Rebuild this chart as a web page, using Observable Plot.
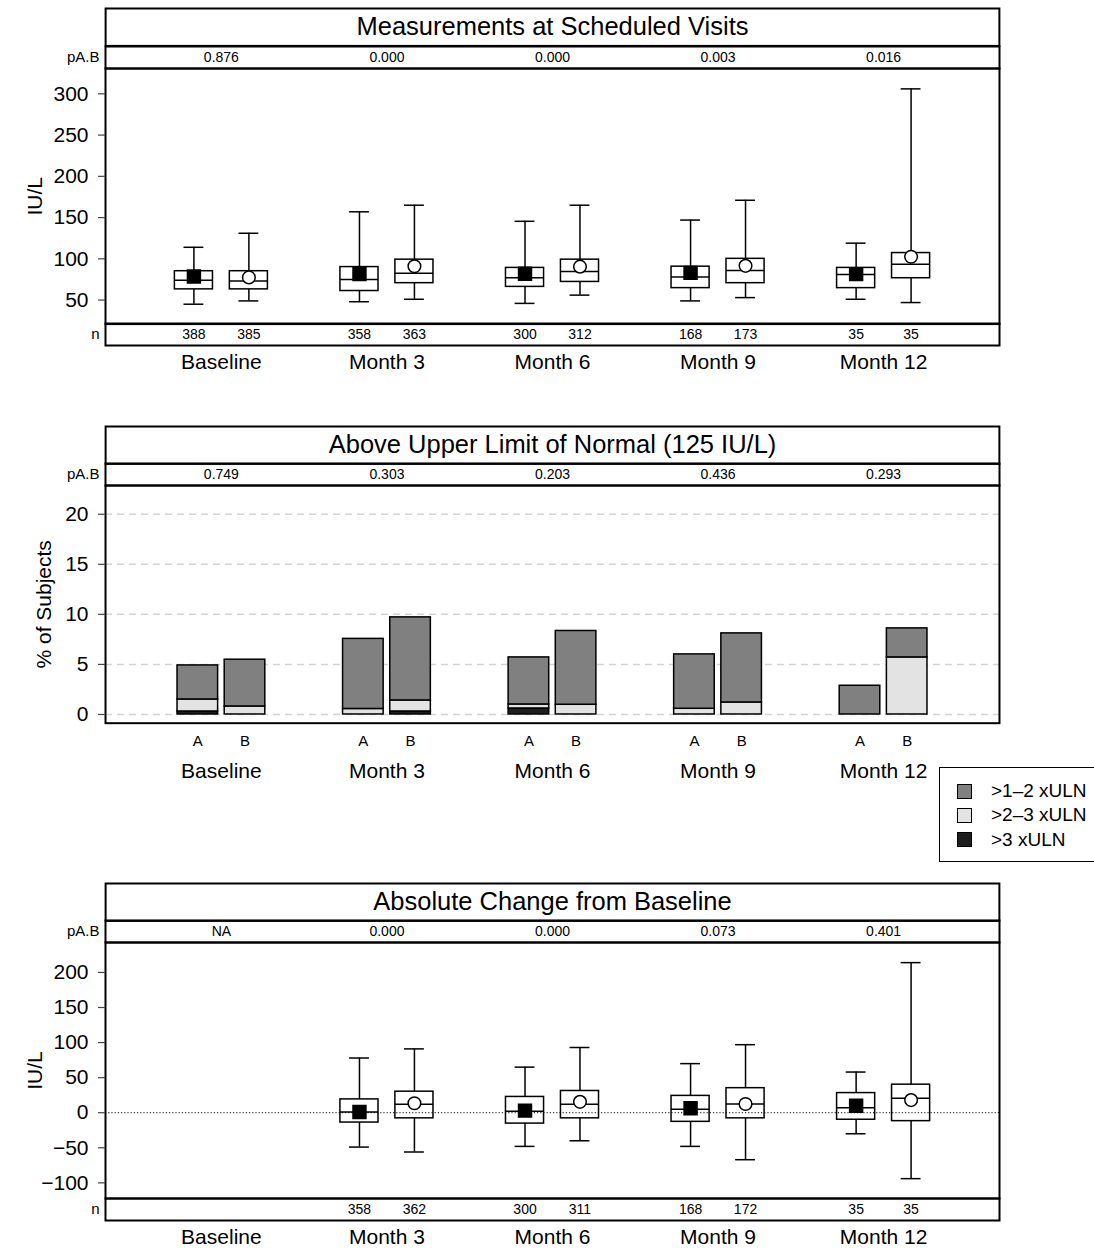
<!DOCTYPE html>
<html><head><meta charset="utf-8">
<script src="https://cdn.jsdelivr.net/npm/d3@7"></script>
<script src="https://cdn.jsdelivr.net/npm/@observablehq/plot@0.6"></script>
<style>
html,body{margin:0;padding:0;background:white;overflow:hidden;}
#root{position:relative;width:1094px;height:1252px;overflow:hidden;font-family:"Liberation Sans",Arial,Helvetica,sans-serif;}
.legend{position:absolute;left:939px;top:767px;width:170px;height:95px;border:1.5px solid #000;box-sizing:border-box;background:white;}
.legend .item{position:absolute;left:17px;height:24px;display:flex;align-items:center;font-size:19px;color:#000;}
.legend .sw{width:13px;height:13px;border:1px solid #000;margin-right:19px;}
</style></head><body><div id="root"></div>
<script>
// ---------- data ----------
const visits = ["Baseline", "Month 3", "Month 6", "Month 9", "Month 12"];
const arms = ["A", "B"];

// Panel 1: Measurements at Scheduled Visits (IU/L)
const title1 = "Measurements at Scheduled Visits";
const pval1 = ["0.876", "0.000", "0.000", "0.003", "0.016"];
const n1A = [388, 358, 300, 168, 35];
const n1B = [385, 363, 312, 173, 35];
const lo1A   = [45, 48, 46, 49, 51];
const q1_1A  = [63, 61, 66, 64.5, 64.5];
const med1A  = [74, 75, 77, 78, 81];
const q3_1A  = [85, 90, 89, 90.5, 89];
const hi1A   = [114, 157, 145.5, 147, 119];
const mean1A = [78.5, 81.5, 82, 83, 81.5];
const lo1B   = [49, 51, 56, 53, 47];
const q1_1B  = [63, 70.5, 72, 70.5, 76.5];
const med1B  = [73, 82.5, 84.5, 86, 93.5];
const q3_1B  = [85, 99, 99, 100, 107];
const hi1B   = [131, 165, 165, 171, 306];
const mean1B = [77.5, 91, 90.5, 91.5, 102.5];
const ticks1 = [50, 100, 150, 200, 250, 300];

// Panel 2: Above Upper Limit of Normal (% of subjects)
const title2 = "Above Upper Limit of Normal (125 IU/L)";
const pval2 = ["0.749", "0.303", "0.203", "0.436", "0.293"];
const categories = [">3 xULN", ">2\u20133 xULN", ">1\u20132 xULN"];
const gt3A  = [0.3, 0, 0.6, 0, 0];
const gt23A = [1.2, 0.55, 0.4, 0.57, 0];
const gt12A = [3.4, 7.0, 4.7, 5.43, 2.87];
const gt3B  = [0, 0.3, 0, 0, 0];
const gt23B = [0.8, 1.1, 0.97, 1.2, 5.7];
const gt12B = [4.67, 8.3, 7.37, 6.9, 2.9];
const ticks2 = [0, 5, 10, 15, 20];

// Panel 3: Absolute Change from Baseline (IU/L)
const title3 = "Absolute Change from Baseline";
const pval3 = ["NA", "0.000", "0.000", "0.073", "0.401"];
const n3A = [null, 358, 300, 168, 35];
const n3B = [null, 362, 311, 172, 35];
const lo3A   = [null, -49, -48, -48, -30];
const q1_3A  = [null, -14, -15.5, -13, -10];
const med3A  = [null, 1, 2, 5, 7];
const q3_3A  = [null, 19, 22.5, 24, 28];
const hi3A   = [null, 78, 65, 70, 58];
const mean3A = [null, 1, 3, 6.5, 10];
const lo3B   = [null, -56, -40, -67, -94];
const q1_3B  = [null, -8, -8, -8, -12];
const med3B  = [null, 12, 12, 12.5, 20.5];
const q3_3B  = [null, 30, 31, 35, 40];
const hi3B   = [null, 91, 93, 97, 214];
const mean3B = [null, 13.5, 15.5, 12.5, 18];
const ticks3 = [-100, -50, 0, 50, 100, 150, 200];

const colors = {">3 xULN": "#1e1e1e", ">2\u20133 xULN": "#e3e3e3", ">1\u20132 xULN": "#808080"};

// ---------- layout helpers ----------
const root = document.getElementById("root");
const FONT = '"Liberation Sans", Arial, Helvetica, sans-serif';
const XDOM = [0.3, 5.7];
const boxOff = 0.166, boxHalf = 0.115, capHalf = 0.06;
const barOff = 0.1425, barHalf = 0.1226;

function base(height, marks, y = {domain: [0, 1]}) {
  return Plot.plot({
    width: 1094, height,
    marginLeft: 105, marginRight: 95, marginTop: 0, marginBottom: 0,
    x: {domain: XDOM, axis: null},
    y: {...y, axis: null},
    style: {fontFamily: FONT, fontSize: "14px", overflow: "visible", background: "transparent", color: "black"},
    marks
  });
}
function place(el, top) {
  el.style.position = "absolute";
  el.style.left = "0px";
  el.style.top = top + "px";
  root.append(el);
}
function titleBox(text, top) {
  place(base(37.4, [
    Plot.frame({stroke: "black", strokeWidth: 2}),
    Plot.text([text], {frameAnchor: "middle", fontSize: 25.5, fill: "black"})
  ]), top);
}
function pStrip(vals, top) {
  place(base(22, [
    Plot.frame({stroke: "black", strokeWidth: 2}),
    Plot.text(vals, {x: (d, i) => i + 1, text: d => d, fontSize: 14, fill: "black"}),
    Plot.text(["pA.B"], {frameAnchor: "left", dx: -6, textAnchor: "end", fontSize: 15, fill: "black"})
  ]), top);
}
function nStrip(nA, nB, top) {
  const rows = [];
  visits.forEach((v, i) => {
    if (nA[i] != null) rows.push({x: i + 1 - boxOff, n: nA[i]});
    if (nB[i] != null) rows.push({x: i + 1 + boxOff, n: nB[i]});
  });
  place(base(22, [
    Plot.frame({stroke: "black", strokeWidth: 2}),
    Plot.text(rows, {x: "x", text: d => String(d.n), fontSize: 14, fill: "black"}),
    Plot.text(["n"], {frameAnchor: "left", dx: -6, textAnchor: "end", fontSize: 15, fill: "black"})
  ]), top);
}
function catRow(top) {
  place(base(30, [
    Plot.text(visits, {x: (d, i) => i + 1, text: d => d, fontSize: 21, fill: "black"})
  ]), top);
}
function armRow(top) {
  const rows = [];
  visits.forEach((v, i) => arms.forEach((a, j) => rows.push({x: i + 1 + (j ? barOff : -barOff), a})));
  place(base(20, [
    Plot.text(rows, {x: "x", text: "a", fontSize: 15, fill: "black"})
  ]), top);
}
function yAxisMarks(ticks, label, labelDx) {
  return [
    Plot.axisY({ticks, tickSize: 7, tickPadding: 10, fontSize: 21, label: null, stroke: "#444", strokeWidth: 1.2, fill: "black"}),
    Plot.text([label], {frameAnchor: "left", dx: labelDx, rotate: -90, textAnchor: "middle", lineAnchor: "middle", fontSize: 21, fill: "black"})
  ];
}
function boxPanel(top, height, ydomain, ticks, stats, zero) {
  const rows = [];
  visits.forEach((v, i) => arms.forEach((a, j) => {
    const s = stats[a];
    if (s.hi[i] == null) return;
    rows.push({arm: a, x: i + 1 + (j ? boxOff : -boxOff),
      lo: s.lo[i], q1: s.q1[i], med: s.med[i], q3: s.q3[i], hi: s.hi[i], mean: s.mean[i]});
  }));
  const sw = 1.5;
  const marks = [
    Plot.ruleX(rows, {x: "x", y1: "lo", y2: "hi", stroke: "black", strokeWidth: sw}),
    Plot.ruleY(rows, {y: "hi", x1: d => d.x - capHalf, x2: d => d.x + capHalf, stroke: "black", strokeWidth: sw}),
    Plot.ruleY(rows, {y: "lo", x1: d => d.x - capHalf, x2: d => d.x + capHalf, stroke: "black", strokeWidth: sw}),
    Plot.rect(rows, {x1: d => d.x - boxHalf, x2: d => d.x + boxHalf, y1: "q1", y2: "q3", fill: "white", stroke: "black", strokeWidth: sw}),
    Plot.ruleY(rows, {y: "med", x1: d => d.x - boxHalf, x2: d => d.x + boxHalf, stroke: "black", strokeWidth: sw})
  ];
  if (zero) marks.push(Plot.ruleY([0], {stroke: "black", strokeWidth: 1, strokeDasharray: "1.2,2"}));
  marks.push(
    Plot.dot(rows.filter(d => d.arm === "A"), {x: "x", y: "mean", symbol: "square", r: 7.3, fill: "black", stroke: "black"}),
    Plot.dot(rows.filter(d => d.arm === "B"), {x: "x", y: "mean", symbol: "circle", r: 6.3, fill: "white", stroke: "black", strokeWidth: sw}),
    Plot.frame({stroke: "black", strokeWidth: 2}),
    ...yAxisMarks(ticks, "IU/L", -70)
  );
  place(base(height, marks, {domain: ydomain}), top);
}

// ---------- Panel 1 ----------
titleBox(title1, 8.3);
pStrip(pval1, 45.7);
boxPanel(67.7, 255.6, [20.9, 330.7], ticks1, {
  A: {lo: lo1A, q1: q1_1A, med: med1A, q3: q3_1A, hi: hi1A, mean: mean1A},
  B: {lo: lo1B, q1: q1_1B, med: med1B, q3: q3_1B, hi: hi1B, mean: mean1B}
}, false);
nStrip(n1A, n1B, 323.3);
catRow(347);

// ---------- Panel 2 ----------
titleBox(title2, 425.6);
pStrip(pval2, 463);
(function () {
  const series = {A: [gt3A, gt23A, gt12A], B: [gt3B, gt23B, gt12B]};
  const rows = [];
  visits.forEach((v, i) => arms.forEach((a, j) => {
    let cum = 0;
    categories.forEach((c, k) => {
      const val = series[a][k][i];
      if (val > 0) rows.push({x: i + 1 + (j ? barOff : -barOff), cat: c, y1: cum, y2: cum + val});
      cum += val;
    });
  }));
  const marks = [
    Plot.ruleY(ticks2, {stroke: "#d4d4d4", strokeWidth: 1.5, strokeDasharray: "7,5"}),
    Plot.rect(rows, {x1: d => d.x - barHalf, x2: d => d.x + barHalf, y1: "y1", y2: "y2",
      fill: d => colors[d.cat], stroke: "black", strokeWidth: 1.5}),
    Plot.frame({stroke: "black", strokeWidth: 2}),
    ...yAxisMarks(ticks2, "% of Subjects", -61)
  ];
  place(base(237.7, marks, {domain: [-0.87, 22.87]}), 485);
})();
armRow(731);
catRow(756);

// legend
(function () {
  const lg = document.createElement("div");
  lg.className = "legend";
  const order = [">1\u20132 xULN", ">2\u20133 xULN", ">3 xULN"];
  order.forEach((c, k) => {
    const it = document.createElement("div");
    it.className = "item";
    it.style.top = (11 + k * 24.3) + "px";
    const sw = document.createElement("span");
    sw.className = "sw";
    sw.style.background = colors[c];
    const tx = document.createElement("span");
    tx.textContent = c;
    it.append(sw, tx);
    lg.append(it);
  });
  root.append(lg);
})();

// ---------- Panel 3 ----------
titleBox(title3, 882.9);
pStrip(pval3, 920.3);
boxPanel(942.3, 256, [-122.3, 242.7], ticks3, {
  A: {lo: lo3A, q1: q1_3A, med: med3A, q3: q3_3A, hi: hi3A, mean: mean3A},
  B: {lo: lo3B, q1: q1_3B, med: med3B, q3: q3_3B, hi: hi3B, mean: mean3B}
}, true);
nStrip(n3A, n3B, 1198.3);
catRow(1222);
</script></body></html>
